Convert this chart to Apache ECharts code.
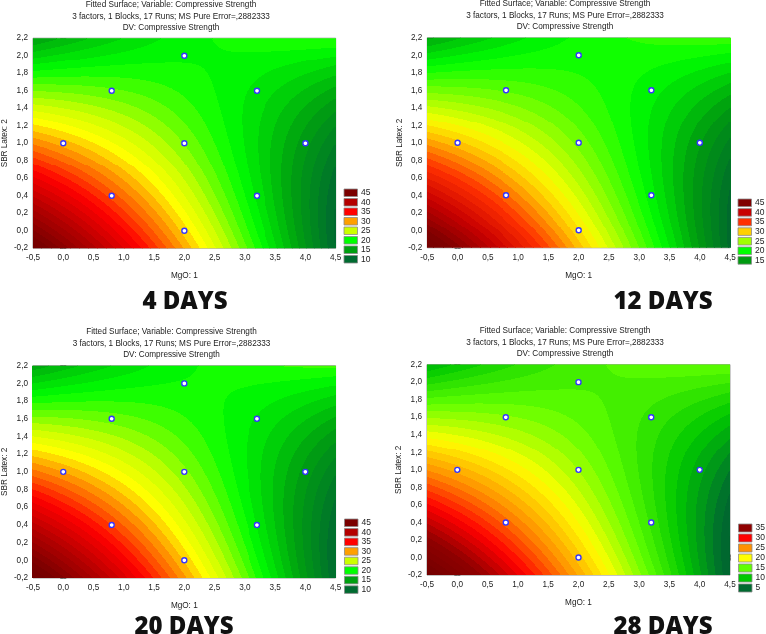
<!DOCTYPE html>
<html>
<head>
<meta charset="utf-8">
<script src="https://cdn.jsdelivr.net/npm/echarts@6/dist/echarts.min.js"></script>
<style>
html, body { margin: 0; padding: 0; background: #fff; }
#chart { width: 766px; height: 634px; }
</style>
</head>
<body>
<div id="chart"></div>
<script>
// design points (MgO, SBR latex)
var mgoPoints = [0.0, 0.8, 0.8, 2.0, 2.0, 2.0, 3.2, 3.2, 4.0];
var sbrPoints = [1.0, 0.4, 1.6, 0.0, 1.0, 2.0, 0.4, 1.6, 1.0];

var dayLabels = ['4 DAYS', '12 DAYS', '20 DAYS', '28 DAYS'];

// legend levels of every panel
var legend4 = [45, 40, 35, 30, 25, 20, 15, 10];
var legend12 = [45, 40, 35, 30, 25, 20, 15];
var legend20 = [45, 40, 35, 30, 25, 20, 15, 10];
var legend28 = [35, 30, 25, 20, 15, 10, 5];

// fitted surface, u = MgO - 2, v = SBR - 1
// z = a + b*u + c*v + d*u^2 + e*v^2 + f*u*v + g*u*v^2
var coef4 = [23, -3.8, -4.375, -0.24, 1.215, 3.58, 0.486];
var coef12 = [23.7, -3.8, -4.375, -0.24, 1.215, 3.58, 0.486];
var coef20 = [23.3, -3.85, -4.4, -0.24, 1.2, 3.6, 0.49];
var coef28 = [17, -3.8, -4.375, -0.24, 1.215, 3.58, 0.486];

// colour ramps (value -> colour)
var ramp4 = [[0, '#003d1c'], [10, '#006b30'], [15, '#00a010'], [20, '#00ff00'], [25, '#ccff00'], [27.5, '#ffff00'], [30, '#ffa000'], [35, '#ff0000'], [40, '#b40000'], [45, '#7a0000'], [60, '#400000']];
var ramp12 = [[0, '#003d1c'], [10, '#006530'], [15, '#009a10'], [20, '#00ff00'], [25, '#a0ff00'], [28, '#f8ff00'], [30, '#ffd000'], [35, '#ff3000'], [40, '#c80000'], [45, '#800000'], [60, '#400000']];
var ramp20 = ramp4;
var ramp28 = [[-5, '#003d1c'], [5, '#006a30'], [10, '#00c800'], [15, '#60ff00'], [20, '#ffff00'], [25, '#ff9000'], [30, '#ff0000'], [35, '#900000'], [50, '#400000']];

var NX = 304, NY = 212;
var DX = 5 / NX, DY = 2.4 / NY;

function hex(c) {
    return [parseInt(c.substr(1, 2), 16), parseInt(c.substr(3, 2), 16), parseInt(c.substr(5, 2), 16)];
}

function rampColor(ramp, z) {
    if (z <= ramp[0][0]) return ramp[0][1];
    for (var i = 1; i < ramp.length; i++) {
        if (z <= ramp[i][0]) {
            var t = (z - ramp[i - 1][0]) / (ramp[i][0] - ramp[i - 1][0]);
            var a = hex(ramp[i - 1][1]), b = hex(ramp[i][1]);
            return 'rgb(' + Math.round(a[0] + (b[0] - a[0]) * t) + ',' +
                Math.round(a[1] + (b[1] - a[1]) * t) + ',' +
                Math.round(a[2] + (b[2] - a[2]) * t) + ')';
        }
    }
    return ramp[ramp.length - 1][1];
}

// one row of the fitted surface per item
function surfaceRows(k) {
    var rows = [];
    for (var j = 0; j < NY; j++) {
        var y = -0.2 + (j + 0.5) * DY;
        var zs = [];
        for (var i = 0; i < NX; i++) {
            var x = -0.5 + (i + 0.5) * DX;
            var u = x - 2, v = y - 1;
            zs.push(k[0] + k[1] * u + k[2] * v + k[3] * u * u + k[4] * v * v + k[5] * u * v + k[6] * u * v * v);
        }
        rows.push({ y: y, z: zs });
    }
    return rows;
}

// contour bands of 1 unit, runs of equal band merged into one rect
function rowRenderer(rows, ramp) {
    return function (params, api) {
        var row = rows[params.dataIndex];
        var yTop = Math.floor(api.coord([0, row.y + DY / 2])[1]);
        var yBot = Math.ceil(api.coord([0, row.y - DY / 2])[1]);
        var children = [];
        var start = 0, band = Math.floor(row.z[0]);
        for (var i = 1; i <= NX; i++) {
            var b = i < NX ? Math.floor(row.z[i]) : null;
            if (b !== band) {
                var xa = Math.floor(api.coord([-0.5 + start * DX, 0])[0]);
                var xb = Math.ceil(api.coord([-0.5 + i * DX, 0])[0]);
                children.push({
                    type: 'rect', silent: true,
                    shape: { x: xa, y: yTop, width: xb - xa, height: yBot - yTop },
                    style: { fill: rampColor(ramp, band + 0.5) }
                });
                start = i;
                band = b;
            }
        }
        return { type: 'group', children: children };
    };
}

function fmt(v) {
    if (Math.abs(v) < 1e-9) v = 0;
    return v.toFixed(1).replace('.', ',');
}

var panels = [
    { coef: coef4, ramp: ramp4, legend: legend4, grid: { left: 32.3, top: 38.2, width: 303.4, height: 210 }, titleX: 171, titleY: -0.5, legendX: 344, legendY: 189, pitch: 9.5, dayX: 185, dayY: 290 },
    { coef: coef12, ramp: ramp12, legend: legend12, grid: { left: 427.3, top: 37.8, width: 302.8, height: 210 }, titleX: 565, titleY: -1.5, legendX: 738, legendY: 199, pitch: 9.6, dayX: 663, dayY: 290 },
    { coef: coef20, ramp: ramp20, legend: legend20, grid: { left: 32.4, top: 365.7, width: 303.2, height: 212.3 }, titleX: 171.5, titleY: 326.5, legendX: 344.5, legendY: 519, pitch: 9.55, dayX: 184, dayY: 615 },
    { coef: coef28, ramp: ramp28, legend: legend28, grid: { left: 427, top: 364.6, width: 303, height: 210.5 }, titleX: 565, titleY: 325.5, legendX: 738.5, legendY: 524, pitch: 10, dayX: 663, dayY: 615 }
];

var textFont = 'Liberation Sans, Arial, sans-serif';
var grids = [], xAxes = [], yAxes = [], series = [], titles = [], graphics = [];

panels.forEach(function (p, i) {
    grids.push(Object.assign({ show: true, borderColor: '#9a9a9a', borderWidth: 1, backgroundColor: 'transparent' }, p.grid));
    var tick = { show: true, inside: true, length: 3, lineStyle: { color: '#777' } };
    xAxes.push({
        gridIndex: i, type: 'value', min: -0.5, max: 4.5, interval: 0.5, position: 'bottom',
        name: 'MgO: 1', nameLocation: 'middle', nameGap: 24,
        nameTextStyle: { fontSize: 8.2, fontFamily: textFont, color: '#222' },
        axisLine: { show: false }, axisTick: tick, splitLine: { show: false },
        axisLabel: { formatter: fmt, fontSize: 8.2, fontFamily: textFont, color: '#222', margin: 6 }
    });
    xAxes.push({
        gridIndex: i, type: 'value', min: -0.5, max: 4.5, interval: 0.5, position: 'top',
        axisLine: { show: false }, axisTick: tick, splitLine: { show: false }, axisLabel: { show: false }
    });
    yAxes.push({
        gridIndex: i, type: 'value', min: -0.2, max: 2.2, interval: 0.2, position: 'left',
        name: 'SBR Latex: 2', nameLocation: 'middle', nameGap: 24, nameRotate: 90,
        nameTextStyle: { fontSize: 8.2, fontFamily: textFont, color: '#222' },
        axisLine: { show: false }, axisTick: tick, splitLine: { show: false },
        axisLabel: { formatter: fmt, fontSize: 8.2, fontFamily: textFont, color: '#222', margin: 5 }
    });
    yAxes.push({
        gridIndex: i, type: 'value', min: -0.2, max: 2.2, interval: 0.2, position: 'right',
        axisLine: { show: false }, axisTick: tick, splitLine: { show: false }, axisLabel: { show: false }
    });

    var rows = surfaceRows(p.coef);
    series.push({
        type: 'custom',
        xAxisIndex: 2 * i, yAxisIndex: 2 * i,
        clip: true,
        encode: { x: 0, y: 1 },
        data: rows.map(function (r) { return [-0.5, r.y]; }),
        renderItem: rowRenderer(rows, p.ramp),
        silent: true,
        z: 1
    });
    series.push({
        type: 'scatter',
        xAxisIndex: 2 * i, yAxisIndex: 2 * i,
        data: mgoPoints.map(function (m, k) { return [m, sbrPoints[k]]; }),
        symbol: 'circle', symbolSize: 5,
        itemStyle: { color: '#ffffff', borderColor: '#3535ff', borderWidth: 1.4, opacity: 1 },
        z: 5
    });

    titles.push({
        text: 'Fitted Surface; Variable: Compressive Strength\n3 factors, 1 Blocks, 17 Runs; MS Pure Error=,2882333\nDV: Compressive Strength',
        left: p.titleX, top: p.titleY, textAlign: 'center', padding: 0,
        textStyle: { fontSize: 8.2, fontWeight: 'normal', fontFamily: textFont, color: '#222', lineHeight: 11.4 }
    });
    titles.push({
        text: dayLabels[i],
        left: p.dayX, top: p.dayY, textAlign: 'center', padding: 0,
        textStyle: { fontSize: 24, fontWeight: 800, fontFamily: 'Open Sans, sans-serif', color: '#111' }
    });

    p.legend.forEach(function (lv, k) {
        var y = p.legendY + k * p.pitch;
        graphics.push({
            type: 'rect', silent: true,
            shape: { x: p.legendX, y: y, width: 13.5, height: p.pitch - 2 },
            style: { fill: rampColor(p.ramp, lv), stroke: '#8a8a8a', lineWidth: 0.8 }
        });
        graphics.push({
            type: 'text', silent: true,
            style: {
                text: String(lv), x: p.legendX + 17, y: y + (p.pitch - 2) / 2,
                textVerticalAlign: 'middle', verticalAlign: 'middle',
                font: '8.5px Liberation Sans, Arial, sans-serif', fill: '#222'
            }
        });
    });
});

var chart = echarts.init(document.getElementById('chart'));
chart.setOption({
    backgroundColor: '#ffffff',
    animation: false,
    title: titles,
    grid: grids,
    xAxis: xAxes,
    yAxis: yAxes,
    series: series,
    graphic: graphics
});
</script>
</body>
</html>
